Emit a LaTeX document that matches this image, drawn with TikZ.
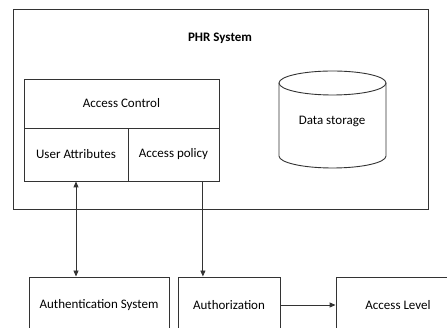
\documentclass[tikz,border=0pt]{standalone}
\usepackage{fontspec}
\setmainfont{Carlito}
\usetikzlibrary{arrows.meta, calc}
\definecolor{cLine}{HTML}{333333}

\begin{document}
\begin{tikzpicture}[
    x=1pt, y=-1pt, font=\fontsize{13}{15}\selectfont,
    box/.style={draw=cLine, line width=0.9pt, inner sep=2pt, align=center},
    sig/.style={-{Triangle[length=6pt, width=5pt]}, line width=0.9pt, cLine},
    dsig/.style={{Triangle[length=6pt, width=5pt]}-{Triangle[length=6pt, width=5pt]},
                 line width=0.9pt, cLine},
]
\useasboundingbox (0,0) rectangle (447,328);

% ===================== PHR system =====================
\node[box, minimum width=415, minimum height=200] (phr) at (220.5,109) {};
\node[font=\fontsize{13}{15}\selectfont\bfseries] (phrlbl) at (220,38) {PHR System};

% access control block
\node[box, minimum width=195, minimum height=49] (ac) at (121.5,103.5) {Access Control};
\node[box, minimum width=104, minimum height=53] (ua) at (76,154.5) {User Attributes};
\node[box, minimum width=91, minimum height=53] (ap) at (173.5,154.5) {Access policy};

% data storage
\draw[cLine, line width=0.9pt] (332.5,83) ellipse [x radius=53.5, y radius=12];
\draw[cLine, line width=0.9pt] (279,83) -- (279,156)
    arc [start angle=180, end angle=360, x radius=53.5, y radius=-12] -- (386,83);
\node (ds) at (332,121) {Data storage};

% ===================== Outside the system =====================
\node[box, minimum width=140, minimum height=56] (auth) at (99,305) {Authentication System};
\node[box, minimum width=102, minimum height=56] (authz) at (229,305) {Authorization};
\node[box, minimum width=124, minimum height=56] (level) at (398,305) {Access Level};

% ===================== Flows =====================
\draw[dsig] (ua.south) -- (ua.south |- auth.north);
\coordinate (apout) at ($(ap.south west)!0.82!(ap.south east)$);
\draw[sig] (apout) -- (apout |- authz.north);
\draw[sig] (authz.east) -- (level.west);

\end{tikzpicture}
\end{document}
